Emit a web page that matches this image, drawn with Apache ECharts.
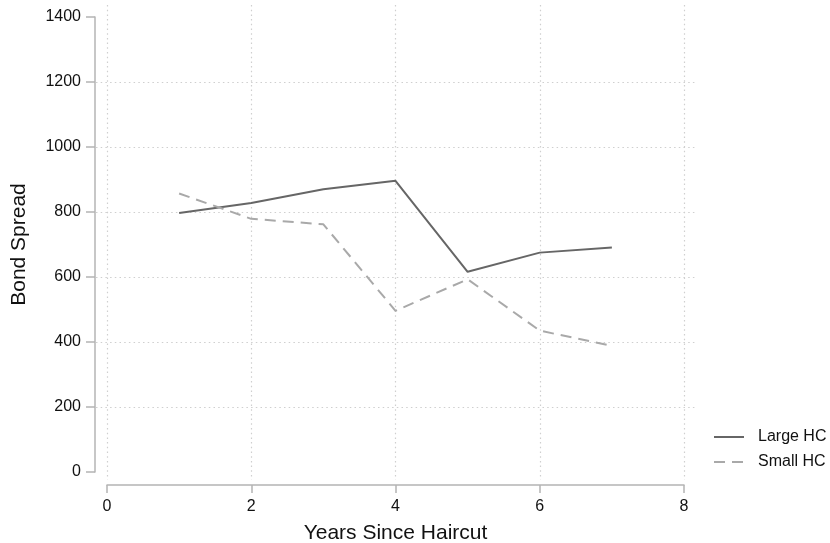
<!DOCTYPE html>
<html>
<head>
<meta charset="utf-8">
<script src="https://cdn.jsdelivr.net/npm/echarts@6/dist/echarts.min.js"></script>
<style>
  html, body { margin: 0; padding: 0; background: #fff; }
  #chart { width: 830px; height: 543px; }
</style>
</head>
<body>
<div id="chart"></div>
<script>
// Years since the haircut and average bond spread for each group
const years = [1, 2, 3, 4, 5, 6, 7];
const largeHC = [797, 828, 870, 896, 616, 675, 691];
const smallHC = [857, 779, 762, 496, 593, 435, 388];
const seriesNames = ['Large HC', 'Small HC'];
const xTitle = 'Years Since Haircut';
const yTitle = 'Bond Spread';

const FONT = '"Liberation Sans", Arial, sans-serif';
const AXIS_GRAY = '#b4b4b4';
const GRID_DOT = '#cfcfcf';
const DOTS = [1.5, 3.2];
const TEXT = '#111111';

const chart = echarts.init(document.getElementById('chart'), null, { renderer: 'canvas' });

const toPairs = (xs, ys) => xs.map((x, i) => [x, ys[i]]);
const plain = v => String(v);

// fixed plot boxes; labels are allowed to sit outside them
const box = (left, right, top, bottom) =>
  ({ left, right, top, bottom, containLabel: false, outerBoundsMode: 'none' });

chart.setOption({
  animation: false,
  backgroundColor: '#ffffff',
  grid: [
    // main plotting area: x 0..8, y 0..1400
    box(107, 146, 17, 71),
    // horizontal dotted guides, running a little wider than the data area
    box(96, 133, 17, 71),
    // vertical dotted guides, running a little taller than the data area
    box(107, 146, 5, 63)
  ],
  xAxis: [
    {
      gridIndex: 0, type: 'value', min: 0, max: 8, interval: 2,
      offset: 13,
      name: xTitle, nameLocation: 'middle', nameGap: 38,
      nameTextStyle: { fontFamily: FONT, fontSize: 21, color: TEXT },
      axisLine: { show: true, onZero: false, lineStyle: { color: AXIS_GRAY, width: 1.5 } },
      axisTick: { show: true, inside: false, length: 8, lineStyle: { color: AXIS_GRAY, width: 1.5 } },
      axisLabel: { fontFamily: FONT, fontSize: 16, color: TEXT, margin: 14, formatter: plain },
      splitLine: { show: false }
    },
    {
      gridIndex: 1, type: 'value', min: 0, max: 8, show: false
    },
    {
      gridIndex: 2, type: 'value', min: 0, max: 8, interval: 2,
      axisLine: { show: false }, axisTick: { show: false }, axisLabel: { show: false },
      splitLine: { show: true, lineStyle: { color: GRID_DOT, type: DOTS, width: 1.2 } }
    }
  ],
  yAxis: [
    {
      gridIndex: 0, type: 'value', min: 0, max: 1400, interval: 200,
      offset: 12,
      name: yTitle, nameLocation: 'middle', nameGap: 65,
      nameTextStyle: { fontFamily: FONT, fontSize: 21, color: TEXT },
      axisLine: { show: true, onZero: false, lineStyle: { color: AXIS_GRAY, width: 1.5 } },
      axisTick: { show: true, inside: false, length: 9, lineStyle: { color: AXIS_GRAY, width: 1.5 } },
      axisLabel: { fontFamily: FONT, fontSize: 16, color: TEXT, margin: 14, formatter: plain },
      splitLine: { show: false }
    },
    {
      gridIndex: 1, type: 'value', min: 0, max: 1400, interval: 200,
      axisLine: { show: false }, axisTick: { show: false }, axisLabel: { show: false },
      splitLine: {
        show: true, showMinLine: false, showMaxLine: false,
        lineStyle: { color: GRID_DOT, type: DOTS, width: 1.2 }
      }
    },
    {
      gridIndex: 2, type: 'value', min: 0, max: 1400, show: false
    }
  ],
  legend: {
    orient: 'vertical',
    left: 713, top: 429, padding: 0,
    itemWidth: 30, itemHeight: 14, itemGap: 9,
    itemStyle: { opacity: 0 },
    textStyle: { fontFamily: FONT, fontSize: 16, color: TEXT, padding: [0, 0, 0, 9] },
    data: seriesNames
  },
  series: [
    {
      name: seriesNames[0], type: 'line',
      xAxisIndex: 0, yAxisIndex: 0,
      data: toPairs(years, largeHC),
      symbol: 'none',
      lineStyle: { color: '#666666', width: 2 },
      itemStyle: { color: '#666666' }
    },
    {
      name: seriesNames[1], type: 'line',
      xAxisIndex: 0, yAxisIndex: 0,
      data: toPairs(years, smallHC),
      symbol: 'none',
      lineStyle: { color: '#a9a9a9', width: 2, type: [11, 7] },
      itemStyle: { color: '#a9a9a9' }
    }
  ]
});
</script>
</body>
</html>
